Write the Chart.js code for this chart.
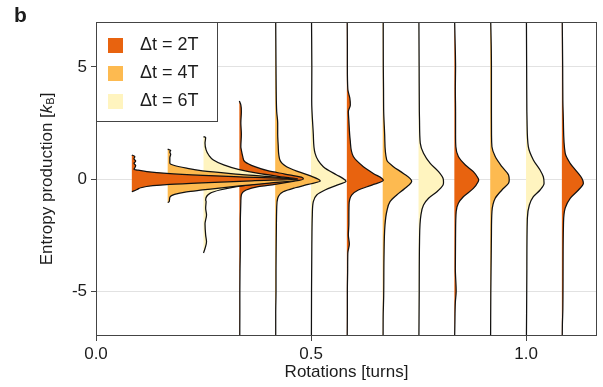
<!DOCTYPE html>
<html>
<head>
<meta charset="utf-8">
<script src="https://cdn.jsdelivr.net/npm/chart.js@4.4.1/dist/chart.umd.min.js"></script>
<style>
  html, body { margin: 0; padding: 0; background: #fff; }
  #wrap { width: 603px; height: 387px; }
</style>
</head>
<body>
<div id="wrap"><canvas id="c"></canvas></div>
<script>
'use strict'

// rotation (turns) where each half violin starts
var rotations = [0.0833, 0.1667, 0.25, 0.3333, 0.4167, 0.5, 0.5833, 0.6667, 0.75, 0.8333, 0.9167, 1.0, 1.0833];
// which Δt each violin belongs to (index into series)
var seriesOf = [0, 1, 2, 0, 1, 2, 0, 1, 2, 0, 1, 2, 0];
var series = ['Δt = 2T', 'Δt = 4T', 'Δt = 6T'];

var yTicks = [-5, 0, 5];
var xTicks = [0, 0.5, 1.0];

// entropy production [kB] (e) and half-violin width in turns (w)
var e1 = [-0.56, -0.53, -0.45, -0.39, -0.3, -0.24, -0.17, -0.08, 0, 0.1, 0.165, 0.25, 0.33, 0.4, 0.43, 0.5, 0.6, 0.7, 0.8, 0.9, 1.0, 1.07];
var w1 = [0, 0.005, 0.014, 0.021, 0.049, 0.088, 0.163, 0.279, 0.386, 0.251, 0.165, 0.081, 0.035, 0.012, 0.005, 0.007, 0.009, 0.005, 0.009, 0.005, 0.007, 0];

var e2 = [-1.05, -1.01, -0.82, -0.685, -0.57, -0.49, -0.31, -0.18, -0.045, 0.09, 0.21, 0.36, 0.48, 0.625, 0.7, 0.8, 0.95, 1.1, 1.2, 1.28, 1.33];
var w2 = [0, 0.0035, 0.005, 0.016, 0.044, 0.081, 0.167, 0.237, 0.3, 0.244, 0.167, 0.081, 0.044, 0.012, 0.005, 0.005, 0.005, 0.007, 0.005, 0.007, 0];

var e3 = [-3.3, -3.1, -2.8, -2.5, -2.0, -1.6, -1.3, -1.0, -0.94, -0.64, -0.49, -0.34, -0.17, 0, 0.1, 0.25, 0.43, 0.63, 0.85, 1.07, 1.3, 1.6, 1.85, 1.89];
var w3 = [0, 0.0035, 0.007, 0.005, 0.0035, 0.007, 0.005, 0.006, 0.005, 0.015, 0.038, 0.077, 0.14, 0.219, 0.181, 0.128, 0.081, 0.047, 0.023, 0.012, 0.006, 0.0035, 0.005, 0];

var e4 = [-7, -6, -5, -4, -3, -2, -1.01, -0.71, -0.49, -0.34, -0.24, -0.12, 0, 0.08, 0.22, 0.37, 0.55, 0.77, 1.0, 1.29, 1.44, 2.0, 2.5, 3.0, 3.3, 3.48];
var w4 = [0.001, 0.0012, 0.0012, 0.0016, 0.0023, 0.0023, 0.0035, 0.0047, 0.016, 0.044, 0.083, 0.121, 0.149, 0.144, 0.106, 0.066, 0.036, 0.013, 0.008, 0.0047, 0.0035, 0.0047, 0.0035, 0.0047, 0.0035, 0];

var e5 = [-7, -6, -5, -4, -3, -2, -1.3, -0.86, -0.57, -0.39, -0.24, -0.09, 0.13, 0.33, 0.55, 0.85, 1.5, 2, 2.5, 3, 4, 5, 7];
var w5 = [0.0012, 0.0012, 0.0019, 0.0019, 0.0023, 0.0028, 0.0035, 0.0058, 0.0186, 0.0465, 0.0767, 0.1047, 0.0837, 0.0535, 0.0265, 0.0109, 0.007, 0.0058, 0.0058, 0.0035, 0.0023, 0.0019, 0.0012];

var e6 = [-7, -5, -3, -1.6, -1.01, -0.71, -0.49, -0.27, -0.1, 0.05, 0.18, 0.55, 1.15, 2.0, 3.5, 5, 7];
var w6 = [0.0009, 0.0012, 0.0019, 0.003, 0.0053, 0.0133, 0.0326, 0.0605, 0.0814, 0.0721, 0.0598, 0.0286, 0.0093, 0.0053, 0.0016, 0.0019, 0.0012];

var e7 = [-7, -6, -5, -4, -3.3, -2.9, -2.5, -2.0, -1.16, -0.71, -0.49, -0.27, -0.06, 0.25, 0.55, 1.0, 1.75, 2.6, 3.0, 3.3, 3.6, 4, 5, 6, 7];
var w7 = [0.0009, 0.0012, 0.0012, 0.0019, 0.0023, 0.0058, 0.0035, 0.0047, 0.0051, 0.0116, 0.0267, 0.0581, 0.0849, 0.0616, 0.0384, 0.0151, 0.0077, 0.0047, 0.0035, 0.0081, 0.007, 0.0023, 0.0012, 0.0012, 0.0009];

var e8 = [-7, -6, -5.2, -3.5, -2.05, -1.46, -1.01, -0.71, -0.42, -0.1, 0.25, 0.55, 0.85, 1.89, 3, 4, 5, 7];
var w8 = [0.0009, 0.0012, 0.0023, 0.003, 0.0053, 0.0093, 0.017, 0.0326, 0.0512, 0.0674, 0.0481, 0.0249, 0.0093, 0.0047, 0.0023, 0.0019, 0.0014, 0.0012];

var e9 = [-7, -5, -2.8, -1.6, -1.16, -0.86, -0.57, -0.27, -0.15, 0.03, 0.33, 0.7, 1.15, 1.6, 2.6, 3, 5, 7];
var w9 = [0.0009, 0.0016, 0.0023, 0.0056, 0.0116, 0.0233, 0.0428, 0.057, 0.0581, 0.057, 0.0465, 0.0272, 0.0116, 0.004, 0.0023, 0.0019, 0.0014, 0.0009];

var e10 = [-7, -6.5, -5.5, -5, -4, -2.5, -1.46, -1.08, -0.79, -0.42, -0.12, -0.04, 0.03, 0.33, 0.625, 1.0, 1.44, 2, 3, 4, 5, 6, 7];
var w10 = [0.0007, 0.0012, 0.0023, 0.0042, 0.0023, 0.0028, 0.0042, 0.0093, 0.0209, 0.0442, 0.0553, 0.0565, 0.0553, 0.0442, 0.0256, 0.0093, 0.0035, 0.0028, 0.0028, 0.0023, 0.0028, 0.0019, 0.0007];

var e11 = [-7, -5, -3.4, -2.5, -1.46, -0.86, -0.49, -0.19, -0.05, 0.18, 0.55, 1.0, 1.44, 2, 3, 4, 5, 6, 7];
var w11 = [0.0009, 0.0014, 0.0023, 0.0028, 0.004, 0.0116, 0.0272, 0.0426, 0.0442, 0.0426, 0.0272, 0.0116, 0.004, 0.003, 0.0028, 0.0028, 0.0028, 0.0023, 0.0012];

var e12 = [-7, -4, -1.76, -1.16, -0.79, -0.49, -0.19, 0.1, 0.4, 0.85, 1.44, 2.6, 3, 5, 7];
var w12 = [0.0009, 0.0019, 0.003, 0.0077, 0.017, 0.0326, 0.0419, 0.0402, 0.0326, 0.017, 0.0053, 0.0023, 0.0019, 0.0014, 0.0009];

var e13 = [-7, -6.5, -5.8, -4, -2.05, -1.3, -0.86, -0.49, -0.19, 0.03, 0.33, 0.7, 1.15, 2.6, 3.5, 5, 7];
var w13 = [0.0009, 0.0012, 0.0023, 0.0028, 0.0037, 0.0077, 0.0193, 0.0386, 0.05, 0.0465, 0.0349, 0.0193, 0.0077, 0.0035, 0.0023, 0.0019, 0.0009];

var entropyLevels = [e1, e2, e3, e4, e5, e6, e7, e8, e9, e10, e11, e12, e13];
var violinWidths = [w1, w2, w3, w4, w5, w6, w7, w8, w9, w10, w11, w12, w13];

var colors = ['#e8630f', '#fdba50', '#fff4bf'];
var ink = '#1c1c1c';
var fontFamily = '"Liberation Sans", Arial, Helvetica, sans-serif';

// one line per violin, drawn vertically (indexAxis y) and filled back to its start rotation
var datasets = rotations.map(function (r, i) {
  return {
    label: series[seriesOf[i]],
    data: entropyLevels[i].map(function (e, j) { return { x: r + violinWidths[i][j], y: e }; }),
    backgroundColor: colors[seriesOf[i]],
    borderColor: '#111',
    borderWidth: 1.25,
    pointRadius: 0,
    cubicInterpolationMode: 'monotone',
    fill: { value: r }
  };
});

var decor = {
  id: 'decor',
  afterDraw: function (chart) {
    var ctx = chart.ctx, a = chart.chartArea;
    ctx.save();
    // frame
    ctx.strokeStyle = '#444';
    ctx.lineWidth = 1;
    ctx.strokeRect(Math.round(a.left) + 0.5, Math.round(a.top) + 0.5,
      Math.round(a.right - a.left) - 1, Math.round(a.bottom - a.top) - 1);

    // legend box
    var lx = Math.round(a.left) + 0.5, ly = Math.round(a.top) + 0.5;
    ctx.fillStyle = '#fff';
    ctx.fillRect(lx, ly, 121, 99);
    ctx.strokeRect(lx, ly, 121, 99);
    ctx.font = '18px ' + fontFamily;
    ctx.textBaseline = 'middle';
    ctx.textAlign = 'left';
    series.forEach(function (s, i) {
      var cy = ly + 23 + i * 28;
      ctx.fillStyle = colors[i];
      ctx.fillRect(lx + 11.5, cy - 7.5, 15, 15);
      ctx.fillStyle = ink;
      ctx.fillText(s, lx + 43.5, cy);
    });

    // panel letter
    ctx.font = 'bold 21px ' + fontFamily;
    ctx.textBaseline = 'alphabetic';
    ctx.fillText('b', 14, 22);

    // y title with italic k and subscript B
    var parts = [
      ['Entropy production [', '17px ' + fontFamily, 0],
      ['k', 'italic 17px ' + fontFamily, 0],
      ['B', '11px ' + fontFamily, 4],
      [']', '17px ' + fontFamily, 0]
    ];
    var total = 0;
    parts.forEach(function (p) { ctx.font = p[1]; p.push(ctx.measureText(p[0]).width); total += p[3]; });
    ctx.translate(47, (a.top + a.bottom) / 2);
    ctx.rotate(-Math.PI / 2);
    ctx.textBaseline = 'middle';
    var x = -total / 2;
    parts.forEach(function (p) {
      ctx.font = p[1];
      ctx.fillText(p[0], x, p[2]);
      x += p[3];
    });
    ctx.restore();
  }
};

new Chart(document.getElementById('c'), {
  type: 'line',
  data: { datasets: datasets },
  options: {
    indexAxis: 'y',
    responsive: true,
    maintainAspectRatio: false,
    animation: false,
    events: [],
    layout: { padding: { left: 0, right: 6, top: 22, bottom: 0 } },
    plugins: { legend: { display: false }, tooltip: { enabled: false } },
    scales: {
      x: {
        type: 'linear',
        min: 0,
        max: 1.165,
        afterFit: function (s) { s.height = 51; },
        afterBuildTicks: function (s) { s.ticks = xTicks.map(function (v) { return { value: v }; }); },
        ticks: {
          color: ink,
          font: { family: fontFamily, size: 17 },
          padding: 3,
          maxRotation: 0,
          callback: function (v) { return Number(v).toFixed(1); }
        },
        grid: { drawOnChartArea: false, tickLength: 5, tickColor: '#444' },
        border: { display: false },
        title: {
          display: true,
          text: 'Rotations [turns]',
          color: ink,
          font: { family: fontFamily, size: 17 },
          padding: { top: 0, bottom: 4 }
        }
      },
      y: {
        type: 'linear',
        min: -7,
        max: 7,
        afterFit: function (s) { s.width = 96; },
        afterBuildTicks: function (s) { s.ticks = yTicks.map(function (v) { return { value: v }; }); },
        ticks: {
          color: ink,
          font: { family: fontFamily, size: 17 },
          padding: 4
        },
        grid: { color: '#e2e2e2', lineWidth: 1, tickLength: 5, tickColor: '#444' },
        border: { display: false }
      }
    }
  },
  plugins: [decor]
});
</script>
</body>
</html>
